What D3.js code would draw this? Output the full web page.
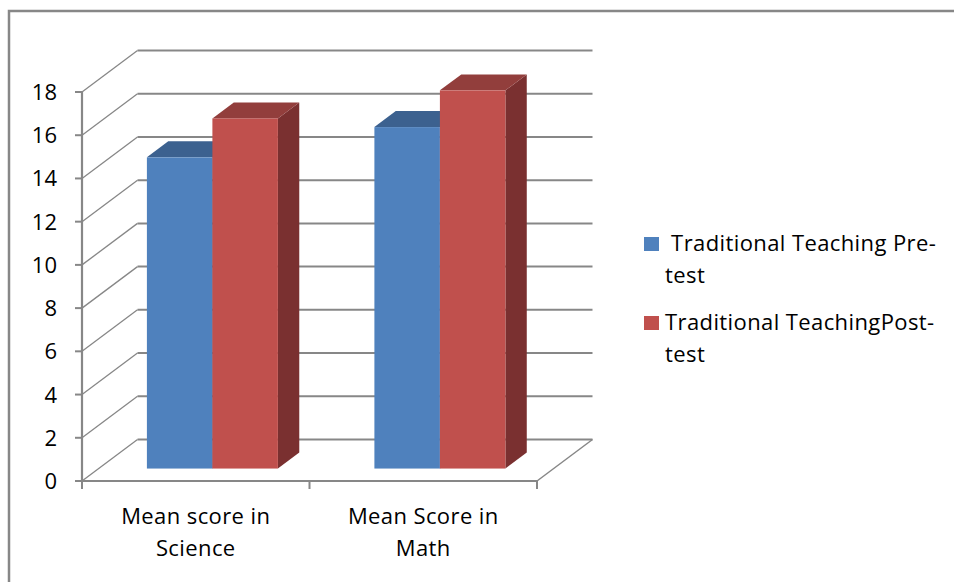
<!DOCTYPE html>
<html>
<head>
<meta charset="utf-8">
<script src="https://cdn.jsdelivr.net/npm/d3@7"></script>
<style>
  html, body { margin: 0; padding: 0; background: #ffffff; }
  svg { display: block; font-family: "Open Sans", Lato, sans-serif; }
</style>
</head>
<body>
<svg id="chart" width="954" height="582"></svg>
<script>
// Categories along the front axis (each drawn on two lines)
const categories = ["Mean score in Science", "Mean Score in Math"];
const categoryLines = [["Mean score in", "Science"], ["Mean Score in", "Math"]];

// Series names as shown in the legend (wrapped over two lines)
const seriesNames = [" Traditional Teaching Pre-test", "Traditional TeachingPost-test"];
const seriesLegendLines = [[" Traditional Teaching Pre-", "test"], ["Traditional TeachingPost-", "test"]];

// Mean scores per series, one value per category
const preTest = [14.4, 15.8];
const postTest = [16.2, 17.5];

// Value axis ticks
const yTicks = [0, 2, 4, 6, 8, 10, 12, 14, 16, 18];

const seriesValues = [preTest, postTest];
const frontColors = ["#4f81bd", "#c0504d"];
const topColors = ["#3c618f", "#923e3c"];
const sideColors = ["#2f4d73", "#7a3030"];

const FONT_SIZE = 22;
const LETTER_SPACING = 0.4;

const svg = d3.select("#chart");

// Front plane of the 3D box
const x0 = d3.scaleBand().domain(categories).range([82, 537]).padding(0);
const groupWidth = 131;
const x1 = d3.scaleBand().domain(d3.range(seriesValues.length)).range([0, groupWidth]).padding(0);
const y = d3.scaleLinear().domain([0, 18]).range([481, 92]);

// Oblique depth offset: full depth of the box
const DEPTH_X = 55.5, DEPTH_Y = -41.5;
const off = f => [DEPTH_X * f, DEPTH_Y * f];

const gridColor = "#878787";

// Outer chart frame
svg.append("rect")
  .attr("x", 9).attr("y", 11)
  .attr("width", 960).attr("height", 600)
  .attr("fill", "none")
  .attr("stroke", gridColor)
  .attr("stroke-width", 2.5);

const grid = svg.append("g");
const [bx, by] = off(1);

// Back wall gridlines
grid.selectAll("line.back")
  .data(yTicks)
  .join("line")
  .attr("class", "back")
  .attr("x1", x0.range()[0] + bx)
  .attr("x2", x0.range()[1] + bx)
  .attr("y1", d => y(d) + by)
  .attr("y2", d => y(d) + by)
  .attr("stroke", gridColor)
  .attr("stroke-width", 2);

// Side wall gridlines running from the front axis to the back wall
grid.selectAll("line.side")
  .data(yTicks)
  .join("line")
  .attr("class", "side")
  .attr("x1", x0.range()[0])
  .attr("x2", x0.range()[0] + bx)
  .attr("y1", d => y(d))
  .attr("y2", d => y(d) + by)
  .attr("stroke", gridColor)
  .attr("stroke-width", 1.3);

// Floor right edge
grid.append("line")
  .attr("x1", x0.range()[1]).attr("y1", y(0))
  .attr("x2", x0.range()[1] + bx).attr("y2", y(0) + by)
  .attr("stroke", gridColor).attr("stroke-width", 1.5);

// Bars as oblique boxes
const F0 = 0.30, F1 = 0.685;
const [dx0, dy0] = off(F0);
const [dx1, dy1] = off(F1);
const barsG = svg.append("g");

categories.forEach((cat, ci) => {
  const gx = x0(cat) + (x0.bandwidth() - groupWidth) / 2;
  seriesValues.forEach((vals, si) => {
    const v = vals[ci];
    const xl = gx + x1(si);
    const xr = xl + x1.bandwidth();
    const yt = y(v), yb = y(0);
    const g = barsG.append("g");
    // right side face
    g.append("path")
      .attr("d", `M${xr + dx0},${yt + dy0}L${xr + dx1},${yt + dy1}L${xr + dx1},${yb + dy1}L${xr + dx0},${yb + dy0}Z`)
      .attr("fill", sideColors[si]);
    // top face
    g.append("path")
      .attr("d", `M${xl + dx0},${yt + dy0}L${xr + dx0},${yt + dy0}L${xr + dx1},${yt + dy1}L${xl + dx1},${yt + dy1}Z`)
      .attr("fill", topColors[si]);
    // front face
    g.append("rect")
      .attr("x", xl + dx0).attr("y", yt + dy0)
      .attr("width", xr - xl).attr("height", yb - yt)
      .attr("fill", frontColors[si]);
  });
});

// Front value axis
const axisG = svg.append("g");
axisG.append("line")
  .attr("x1", x0.range()[0]).attr("x2", x0.range()[0])
  .attr("y1", y(18)).attr("y2", y(0))
  .attr("stroke", gridColor).attr("stroke-width", 2.2);
axisG.selectAll("line.ytick")
  .data(yTicks)
  .join("line")
  .attr("class", "ytick")
  .attr("x1", x0.range()[0] - 7).attr("x2", x0.range()[0])
  .attr("y1", d => y(d)).attr("y2", d => y(d))
  .attr("stroke", gridColor).attr("stroke-width", 2);
axisG.selectAll("text.ylab")
  .data(yTicks)
  .join("text")
  .attr("class", "ylab")
  .attr("x", 57)
  .attr("y", d => y(d) + 8)
  .attr("text-anchor", "end")
  .attr("font-size", FONT_SIZE)
  .attr("fill", "#000")
  .text(d => d);

// Front category axis
axisG.append("line")
  .attr("x1", x0.range()[0]).attr("x2", x0.range()[1])
  .attr("y1", y(0)).attr("y2", y(0))
  .attr("stroke", gridColor).attr("stroke-width", 2.2);
const catTicks = [x0.range()[0], ...categories.slice(1).map(c => x0(c)), x0.range()[1]];
axisG.selectAll("line.xtick")
  .data(catTicks)
  .join("line")
  .attr("class", "xtick")
  .attr("x1", d => d).attr("x2", d => d)
  .attr("y1", y(0)).attr("y2", y(0) + 8)
  .attr("stroke", gridColor).attr("stroke-width", 2);

categories.forEach((cat, ci) => {
  const cx = x0(cat) + x0.bandwidth() / 2;
  const t = axisG.append("text")
    .attr("text-anchor", "middle")
    .attr("font-size", FONT_SIZE)
    .attr("letter-spacing", LETTER_SPACING)
    .attr("fill", "#000");
  categoryLines[ci].forEach((line, li) => {
    t.append("tspan").attr("x", cx).attr("y", 524 + li * 32).text(line);
  });
});

// Legend
const legend = svg.append("g");
const legendTop = [237, 316];
seriesNames.forEach((name, si) => {
  legend.append("rect")
    .attr("x", 644).attr("y", legendTop[si])
    .attr("width", 15).attr("height", 14)
    .attr("fill", frontColors[si]);
  const t = legend.append("text")
    .attr("font-size", FONT_SIZE)
    .attr("letter-spacing", LETTER_SPACING)
    .attr("fill", "#000")
    .style("white-space", "pre");
  seriesLegendLines[si].forEach((line, li) => {
    t.append("tspan").attr("x", 665).attr("y", legendTop[si] + 14 + li * 32).text(line);
  });
});
</script>
</body>
</html>
